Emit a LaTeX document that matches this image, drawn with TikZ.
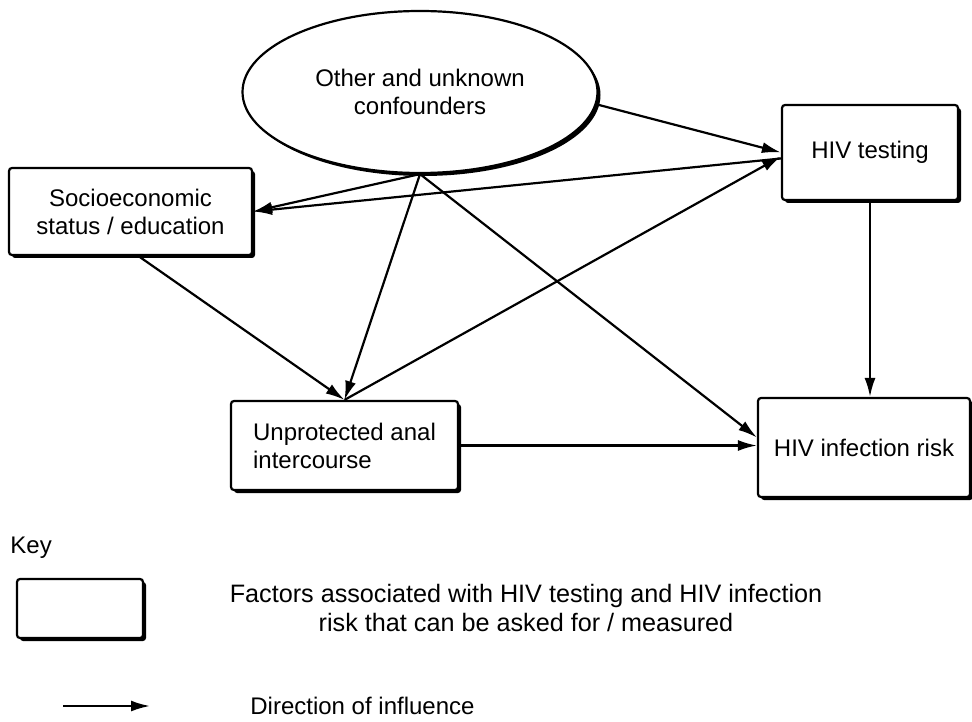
\documentclass[tikz,border=0pt]{standalone}
\usepackage{fontspec}
\setmainfont{Liberation Sans}
\usetikzlibrary{arrows.meta,shapes.geometric,shadows}
\begin{document}
\begin{tikzpicture}[x=0.5pt,y=-0.5pt,
  every node/.style={font=\fontsize{12pt}{14pt}\selectfont},
  shade box/.style={draw=black,line width=1.1pt,fill=white,rounded corners=1.5pt,
    drop shadow={shadow xshift=1.5pt,shadow yshift=-1.5pt,opacity=1,fill=black},
    align=center,inner sep=0pt},
  conf/.style={ellipse,draw=black,line width=1.1pt,fill=white,
    drop shadow={shadow xshift=1.5pt,shadow yshift=-1.5pt,opacity=1,fill=black},
    align=center,inner sep=0pt},
  infl/.style={line width=1.1pt,-{Latex[length=9.5pt,width=5.5pt]}},
  label text/.style={align=center,inner sep=0pt}
]
\useasboundingbox (0,0) rectangle (972,721);

% factors
\node[conf,minimum width=177.5pt,minimum height=81pt] (ell) at (420,92)
  {Other and unknown\\confounders};
\node[shade box,minimum width=121.5pt,minimum height=43.5pt] (socio) at (130.5,211.5)
  {Socioeconomic\\status / education};
\node[shade box,minimum width=88pt,minimum height=47.5pt] (test) at (870,152.5)
  {HIV testing};
\node[shade box,minimum width=113.5pt,minimum height=44.5pt,align=left] (unprot) at (344.5,445.5)
  {Unprotected anal\\intercourse};
\node[shade box,minimum width=106pt,minimum height=49.5pt] (infect) at (864,447.5)
  {HIV infection risk};

% influences
\draw[infl] (ell.-4) -- (test.west);
\draw[infl] ([yshift=-3pt]test.west) -- (socio.east);
\draw[infl] (ell.south) -- (socio.east);
\draw[infl] (ell.south) -- (unprot.north);
\draw[infl] (ell.south) -- ([yshift=5pt]infect.west);
\draw[infl] ([xshift=4pt]socio.south) -- (unprot.north);
\draw[infl] (unprot.north) -- ([yshift=-2pt]test.west);
\draw[infl] (test.south) -- (test.south |- infect.north);
\draw[infl] (unprot.east) -- (unprot.east -| infect.west);

% key
\node[anchor=west,inner sep=0pt] (key) at (10,548) {Key};
\node[shade box,minimum width=63pt,minimum height=29.5pt] (keybox) at (80,608.5) {};
\node[label text,font=\fontsize{12.6pt}{14.5pt}\selectfont] (keytext) at (526,607.5)
  {Factors associated with HIV testing and HIV infection\\risk that can be asked for / measured};
\coordinate (la) at (63,706);
\coordinate (lb) at (150,706);
\draw[infl] (la) -- (lb);
\node[anchor=west,inner sep=0pt] (keyarrow) at (250,706) {Direction of influence};
\end{tikzpicture}
\end{document}
